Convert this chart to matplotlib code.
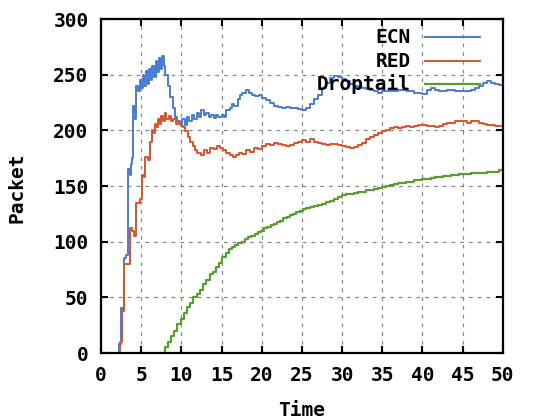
import matplotlib
matplotlib.use("Agg")
import matplotlib.pyplot as plt

# ECN queue length
ecn_t = [2.0, 2.3, 2.5, 2.7, 2.8, 3.1, 3.3, 3.4, 3.6, 3.7, 3.9, 4.0, 4.2, 4.3, 4.4,
         4.6, 4.8, 5.0, 5.2, 5.4, 5.6, 5.8, 6.0, 6.2, 6.4, 6.6, 6.8, 7.0, 7.2, 7.4,
         7.6, 7.8, 8.0, 8.3, 8.6, 8.9, 9.2, 9.5, 9.8, 10.1, 10.4, 10.7, 11.0, 11.3,
         11.6, 11.9, 12.2, 12.5, 12.8, 13.1, 13.4, 13.7, 14.0, 14.3, 14.6, 15.0,
         15.3, 15.6, 16.0, 16.3, 16.6, 17.0, 17.3, 17.6, 18.0, 18.4, 18.8, 19.2,
         19.6, 20.0, 20.5, 21.0, 21.5, 22.0, 22.5, 23.0, 23.5, 24.0, 24.5, 25.0,
         25.5, 26.0, 26.5, 27.0, 27.5, 28.0, 28.5, 29.0, 29.5, 30.0, 30.5, 31.0,
         31.5, 32.0, 32.5, 33.0, 33.5, 34.0, 34.5, 35.0, 36.0, 37.0, 38.0, 39.0,
         40.0, 40.5, 41.0, 41.5, 42.0, 43.0, 44.0, 45.0, 46.0, 46.5, 47.0, 47.5,
         48.0, 48.5, 49.0, 49.5, 50.0]
ecn_v = [0, 8, 40, 38, 85, 88, 95, 165, 160, 170, 175, 222, 210, 215, 240,
         235, 245, 238, 250, 240, 253, 242, 255, 245, 258, 248, 262, 252, 265, 255,
         267, 258, 250, 240, 230, 220, 212, 208, 206, 210, 205, 212, 208, 214,
         210, 216, 212, 218, 214, 216, 212, 214, 211, 214, 212, 214,
         212, 218, 220, 224, 222, 228, 232, 234, 236, 234, 232, 231,
         232, 229, 227, 225, 222, 221, 220, 221, 220, 220, 219, 218,
         220, 224, 228, 232, 238, 243, 247, 249, 248, 246, 244, 242,
         240, 239, 238, 237, 236, 235, 234, 235, 235, 236, 235, 234,
         233, 236, 238, 236, 235, 236, 235, 235, 236, 238, 240, 243,
         244, 243, 242, 241, 240]

# RED queue length
red_t = [2.2, 2.4, 2.6, 2.8, 2.9, 3.2, 3.5, 3.6, 3.9, 4.1, 4.3, 4.6, 4.9, 5.1,
         5.3, 5.5, 5.8, 6.1, 6.3, 6.5, 6.7, 6.9, 7.1, 7.3, 7.5, 7.7, 7.9, 8.1,
         8.4, 8.7, 9.0, 9.3, 9.6, 9.9, 10.2, 10.5, 10.8, 11.1, 11.4, 11.7, 12.0,
         12.4, 12.8, 13.2, 13.6, 14.0, 14.4, 14.8, 15.2, 15.6, 16.0, 16.4, 16.8,
         17.2, 17.6, 18.0, 18.5, 19.0, 19.5, 20.0, 20.5, 21.0, 21.5, 22.0, 22.5,
         23.0, 23.5, 24.0, 24.5, 25.0, 25.5, 26.0, 26.5, 27.0, 27.5, 28.0, 28.5,
         29.0, 29.5, 30.0, 30.5, 31.0, 31.5, 32.0, 32.5, 33.0, 33.5, 34.0, 34.5,
         35.0, 35.5, 36.0, 36.5, 37.0, 37.5, 38.0, 38.5, 39.0, 39.5, 40.0, 40.5,
         41.0, 41.5, 42.0, 42.5, 43.0, 43.5, 44.0, 44.5, 45.0, 45.5, 46.0, 46.5,
         47.0, 47.5, 48.0, 48.5, 49.0, 49.5, 50.0]
red_v = [0, 10, 38, 42, 80, 80, 80, 112, 110, 105, 135, 135, 138, 160,
         158, 176, 173, 190, 200, 198, 206, 203, 210, 206, 213, 208, 216, 210,
         213, 208, 210, 206, 207, 204, 203, 199, 194, 190, 186, 182, 180,
         178, 182, 180, 184, 183, 186, 184, 182, 180, 178, 176, 178,
         180, 179, 182, 181, 184, 183, 186, 188, 187, 189, 188, 187,
         186, 187, 189, 190, 191, 190, 192, 190, 189, 188, 187, 188,
         188, 187, 186, 185, 184, 185, 187, 189, 192, 194, 196, 198,
         199, 200, 202, 203, 202, 203, 204, 203, 204, 205, 205, 204,
         204, 203, 204, 206, 207, 207, 208, 208, 208, 207, 208, 208,
         207, 206, 205, 205, 204, 204, 204]

# Droptail queue length
drop_t = [7.5, 7.9, 8.3, 8.7, 9.1, 9.5, 9.9, 10.3, 10.7, 11.1, 11.5, 11.9, 12.3,
          12.7, 13.1, 13.5, 13.9, 14.3, 14.7, 15.1, 15.5, 15.9, 16.3, 16.7, 17.1,
          17.5, 17.9, 18.3, 18.7, 19.1, 19.5, 19.9, 20.3, 20.7, 21.1, 21.5, 21.9,
          22.3, 22.7, 23.1, 23.5, 23.9, 24.3, 24.7, 25.1, 25.5, 26.0, 26.5, 27.0,
          27.5, 28.0, 28.5, 29.0, 29.5, 30.0, 30.5, 31.0, 31.5, 32.0, 32.5, 33.0,
          33.5, 34.0, 34.5, 35.0, 35.5, 36.0, 36.5, 37.0, 37.5, 38.0, 38.5, 39.0,
          39.5, 40.0, 40.5, 41.0, 41.5, 42.0, 42.5, 43.0, 43.5, 44.0, 44.5, 45.0,
          45.5, 46.0, 46.5, 47.0, 47.5, 48.0, 48.5, 49.0, 49.5, 50.0]
drop_v = [0, 5, 10, 15, 20, 26, 31, 36, 41, 45, 50, 53, 57,
          62, 66, 71, 73, 77, 81, 86, 90, 93, 95, 97, 99,
          100, 102, 104, 105, 107, 109, 110, 112, 113, 115, 116, 118,
          119, 121, 122, 124, 125, 127, 128, 129, 130, 131, 132, 133,
          134, 136, 137, 138, 140, 142, 143, 143, 144, 145, 145, 146,
          146, 147, 148, 149, 150, 151, 152, 153, 153, 154, 154, 155,
          155, 156, 156, 157, 158, 158, 159, 159, 160, 160, 161, 161,
          161, 162, 162, 162, 162, 163, 163, 163, 164, 164]

x_ticks = [0, 5, 10, 15, 20, 25, 30, 35, 40, 45, 50]
y_ticks = [0, 50, 100, 150, 200, 250, 300]

plt.rcParams['font.family'] = ['DejaVu Sans Mono']
plt.rcParams['font.weight'] = 'bold'

fig = plt.figure(figsize=(5.46, 4.19), dpi=100)
ax = fig.add_axes([0.185, 0.1575, 0.736, 0.797])

series = [
    ('ECN', ecn_t, ecn_v, '#4a7bd0', 1.4),
    ('RED', red_t, red_v, '#d9532b', 1.4),
    ('Droptail', drop_t, drop_v, '#5a9e32', 1.6),
]
for name, t, v, col, lw in series:
    ax.plot(t, v, drawstyle='steps-post', color=col, lw=lw)

ax.set_xlim(0, 50)
ax.set_ylim(0, 300)
ax.set_xticks(x_ticks)
ax.set_yticks(y_ticks)
ax.tick_params(direction='in', length=5, width=1.5, top=True, right=True,
               labelsize=14)
ax.tick_params(axis='x', pad=9)
ax.tick_params(axis='y', pad=9)
for lbl in ax.get_xticklabels() + ax.get_yticklabels():
    lbl.set_fontweight('bold')
for s in ax.spines.values():
    s.set_linewidth(1.6)

ax.grid(True, color='#888888', linestyle=(0, (3, 4)), linewidth=0.9)
ax.set_axisbelow(True)

ax.set_xlabel('Time', fontsize=14, fontweight='bold')
ax.set_ylabel('Packet', fontsize=14, fontweight='bold')
ax.xaxis.set_label_coords(0.5, -0.145)
ax.yaxis.set_label_coords(-0.185, 0.495)

# gnuplot-style key: right-aligned labels followed by line samples
key_y = [0.946, 0.874, 0.806]
for (name, t, v, col, lw), ky in zip(series, key_y):
    ax.text(0.771, ky, name, transform=ax.transAxes, ha='right', va='center',
            fontsize=14, fontweight='bold', zorder=6)
    ax.plot([0.806, 0.943], [ky, ky], transform=ax.transAxes, color=col,
            lw=lw, zorder=6, clip_on=False)

fig.savefig('out.png', dpi=100)
